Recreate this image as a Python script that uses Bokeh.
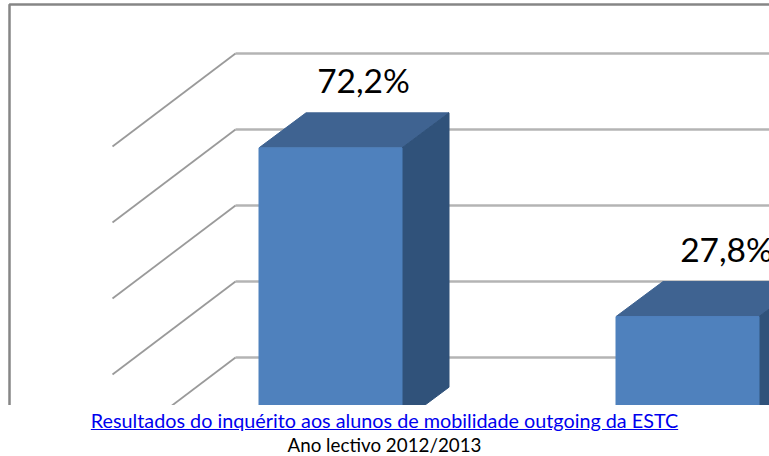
from bokeh.plotting import figure
from bokeh.embed import file_html
from bokeh.resources import INLINE
from bokeh.models import Range1d, Div, ColumnDataSource
from bokeh.layouts import column
from bokeh.core.properties import value

# data
positions = [0, 1]
values = [72.2, 27.8]
labels = ["72,2%", "27,8%"]
grid_levels = [0, 20, 40, 60, 80]
caption_link = "Resultados do inquérito aos alunos de mobilidade outgoing da ESTC"
caption_year = "Ano lectivo 2012/2013"

# layout: one x unit = distance between bars, y unit = percentage point
PX_X = 357.0
PX_Y = 3.8
W, H = 769, 405
X0_PX = 330.0          # bar 0 centre (front face)
Y0_PX = 357.0          # 0 % on back wall
x_range = Range1d(-X0_PX / PX_X, (W - X0_PX) / PX_X)
y_range = Range1d((Y0_PX - H) / PX_Y, Y0_PX / PX_Y)

BAR_W = 143 / PX_X
DX = 47 / PX_X         # bar depth
DY = 35 / PX_Y
FLOOR_DX = 123 / PX_X  # floor depth
FLOOR_DY = 93 / PX_Y
WALL_X = (235 - X0_PX) / PX_X
BAR_FRONT_DY = 64.7 / PX_Y   # front face lowered from wall level
LABEL_DX = [33 / PX_X, 39 / PX_X]

p = figure(width=W, height=H, x_range=x_range, y_range=y_range,
           x_axis_type=None, y_axis_type=None, toolbar_location=None,
           output_backend="svg", min_border=0, outline_line_color=None,
           background_fill_color="white", border_fill_color="white")
p.grid.visible = False

# frame
fx = (9 - X0_PX) / PX_X
fy = (Y0_PX - 4) / PX_Y
p.line([fx, fx, x_range.end + 1], [y_range.start - 5, fy, fy], line_color="#868686", line_width=2.5)

# grid
for g in grid_levels:
    p.line([x_range.end + 1, WALL_X], [g, g], line_color="#b4b4b4", line_width=2.6)
    p.line([WALL_X, WALL_X - FLOOR_DX], [g, g - FLOOR_DY], line_color="#9a9a9a", line_width=1.8)

# bars
for pos, v in zip(positions, values):
    l = pos - BAR_W / 2
    r = pos + BAR_W / 2
    top = v - BAR_FRONT_DY
    bot = 0 - BAR_FRONT_DY
    p.patch([l, r, r + DX, l + DX], [top, top, top + DY, top + DY], fill_color="#3f6391", line_color="#3f6391")
    p.patch([r, r + DX, r + DX, r], [top, top + DY, bot + DY, bot], fill_color="#30527a", line_color="#30527a")
    p.quad(left=l, right=r, top=top, bottom=bot, fill_color="#4f81bd", line_color="#4f81bd")

# value labels
src = ColumnDataSource(dict(
    x=[pos + d for pos, d in zip(positions, LABEL_DX)],
    y=[v - BAR_FRONT_DY + 68 / PX_Y for v in values],
    t=labels))
p.text("x", "y", text="t", source=src, text_font=value("Lato"), text_font_size="33.5px",
       text_color="black", text_align="center", text_baseline="alphabetic")

div = Div(text=(f'<div style="width:{W}px;text-align:center;font-family:Lato;color:#000;margin:0;padding:2px 0 0 0">'
                f'<a href="#" style="display:block;color:#0000ee;text-decoration:underline;font-size:19.8px;line-height:27px">{caption_link}</a>'
                f'<span style="display:block;margin-top:2px;font-size:18.8px;line-height:18px">{caption_year}</span></div>'),
          width=W, height=51, margin=0)

layout = column(p, div, spacing=0, margin=0, styles={"position": "absolute", "left": "0", "top": "0"})
open("out.html", "w").write(file_html(layout, INLINE))
